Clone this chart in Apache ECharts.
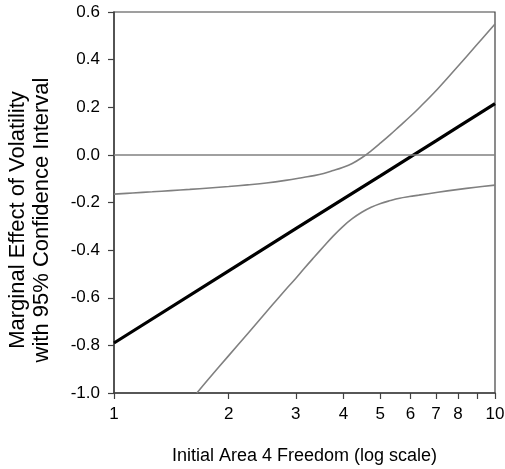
<!DOCTYPE html>
<html><head><meta charset="utf-8">
<script src="https://cdn.jsdelivr.net/npm/echarts@6/dist/echarts.min.js"></script>
<style>html,body{margin:0;padding:0;background:#fff}#c{width:505px;height:469px}</style>
</head><body><div id="c"></div>
<script>
// Tick values
const xTickValues = [1, 2, 3, 4, 5, 6, 7, 8, 9, 10];
const xLabelValues = [1, 2, 3, 4, 5, 6, 7, 8, 10];
const yMin = -1.0, yMax = 0.6, yStep = 0.2;

// Marginal effect (thick black line)
const centerX = [1, 2, 3, 4, 5, 6, 7, 8, 9, 10];
const centerY = [-0.79, -0.487, -0.310, -0.185, -0.088, -0.008, 0.059, 0.118, 0.169, 0.215];

// Upper 95% bound
const upperX = [1, 1.12, 1.26, 1.41, 1.58, 1.78, 2.0, 2.24, 2.51, 2.82, 3.16, 3.35, 3.55, 3.76, 3.98, 4.22, 4.47, 4.73, 5.01, 5.31, 5.62, 5.96, 6.31, 7.08, 7.94, 8.91, 10];
const upperY = [-0.165, -0.160, -0.155, -0.150, -0.145, -0.139, -0.133, -0.126, -0.118, -0.107, -0.094, -0.087, -0.078, -0.066, -0.053, -0.036, -0.012, 0.017, 0.050, 0.085, 0.121, 0.158, 0.196, 0.278, 0.367, 0.458, 0.550];

// Lower 95% bound
const lowerX = [1.65, 1.78, 2.0, 2.24, 2.51, 2.82, 2.99, 3.16, 3.35, 3.55, 3.76, 3.98, 4.22, 4.47, 4.73, 5.01, 5.31, 5.62, 5.96, 6.31, 7.08, 7.94, 8.91, 10];
const lowerY = [-1.0, -0.937, -0.843, -0.752, -0.660, -0.566, -0.521, -0.476, -0.430, -0.385, -0.341, -0.302, -0.268, -0.241, -0.220, -0.204, -0.192, -0.182, -0.175, -0.169, -0.157, -0.146, -0.136, -0.127];

const zip = (xs, ys) => xs.map((x, i) => [x, ys[i]]);
const FONT = "'Liberation Sans', Arial, sans-serif";

const chart = echarts.init(document.getElementById('c'), null, {renderer: 'canvas'});
chart.setOption({
  animation: false,
  backgroundColor: '#fff',
  grid: {left: 114, right: 10, top: 12, bottom: 76, containLabel: false, outerBoundsMode: 'none',
         show: true, borderColor: '#404040', borderWidth: 1.2, backgroundColor: 'transparent'},
  xAxis: {
    type: 'log', logBase: 10, min: 1, max: 10,
    name: 'Initial Area 4 Freedom (log scale)', nameLocation: 'middle', nameGap: 54,
    nameTextStyle: {fontFamily: FONT, fontSize: 18, color: '#000'},
    axisLine: {show: true, onZero: false, lineStyle: {color: '#404040', width: 1.5}},
    axisTick: {show: true, inside: false, length: 6, customValues: xTickValues, lineStyle: {color: '#404040', width: 1.2}},
    axisLabel: {show: true, margin: 13, customValues: xLabelValues, fontFamily: FONT, fontSize: 17, color: '#000',
                formatter: v => String(Math.round(v))},
    splitLine: {show: false}, minorTick: {show: false}
  },
  yAxis: {
    type: 'value', min: yMin, max: yMax, interval: yStep,
    axisLine: {show: true, onZero: false, lineStyle: {color: '#404040', width: 1.5}},
    axisTick: {show: true, inside: false, length: 6, lineStyle: {color: '#404040', width: 1.2}},
    axisLabel: {margin: 14, fontFamily: FONT, fontSize: 17, color: '#000', formatter: v => (Math.abs(v) < 1e-9 ? 0 : v).toFixed(1)},
    splitLine: {show: false}
  },
  graphic: [{
    type: 'text', x: 29.5, y: 220, rotation: Math.PI / 2, silent: true,
    style: {text: 'Marginal Effect of Volatility\nwith 95% Confidence Interval', font: '22px ' + FONT,
            fill: '#000', align: 'center', verticalAlign: 'middle', lineHeight: 24}
  }],
  series: [
    {type: 'line', data: zip(upperX, upperY), smooth: 0.4, symbol: 'none', silent: true,
     lineStyle: {color: '#808080', width: 1.6},
     markLine: {silent: true, symbol: 'none', label: {show: false}, lineStyle: {color: '#808080', width: 1.6, type: 'solid'},
                data: [{yAxis: 0}]}},
    {type: 'line', data: zip(lowerX, lowerY), smooth: 0.4, symbol: 'none', silent: true,
     lineStyle: {color: '#808080', width: 1.6}},
    {type: 'line', data: zip(centerX, centerY), smooth: false, symbol: 'none', silent: true,
     lineStyle: {color: '#000', width: 3.2}}
  ]
});
</script></body></html>
